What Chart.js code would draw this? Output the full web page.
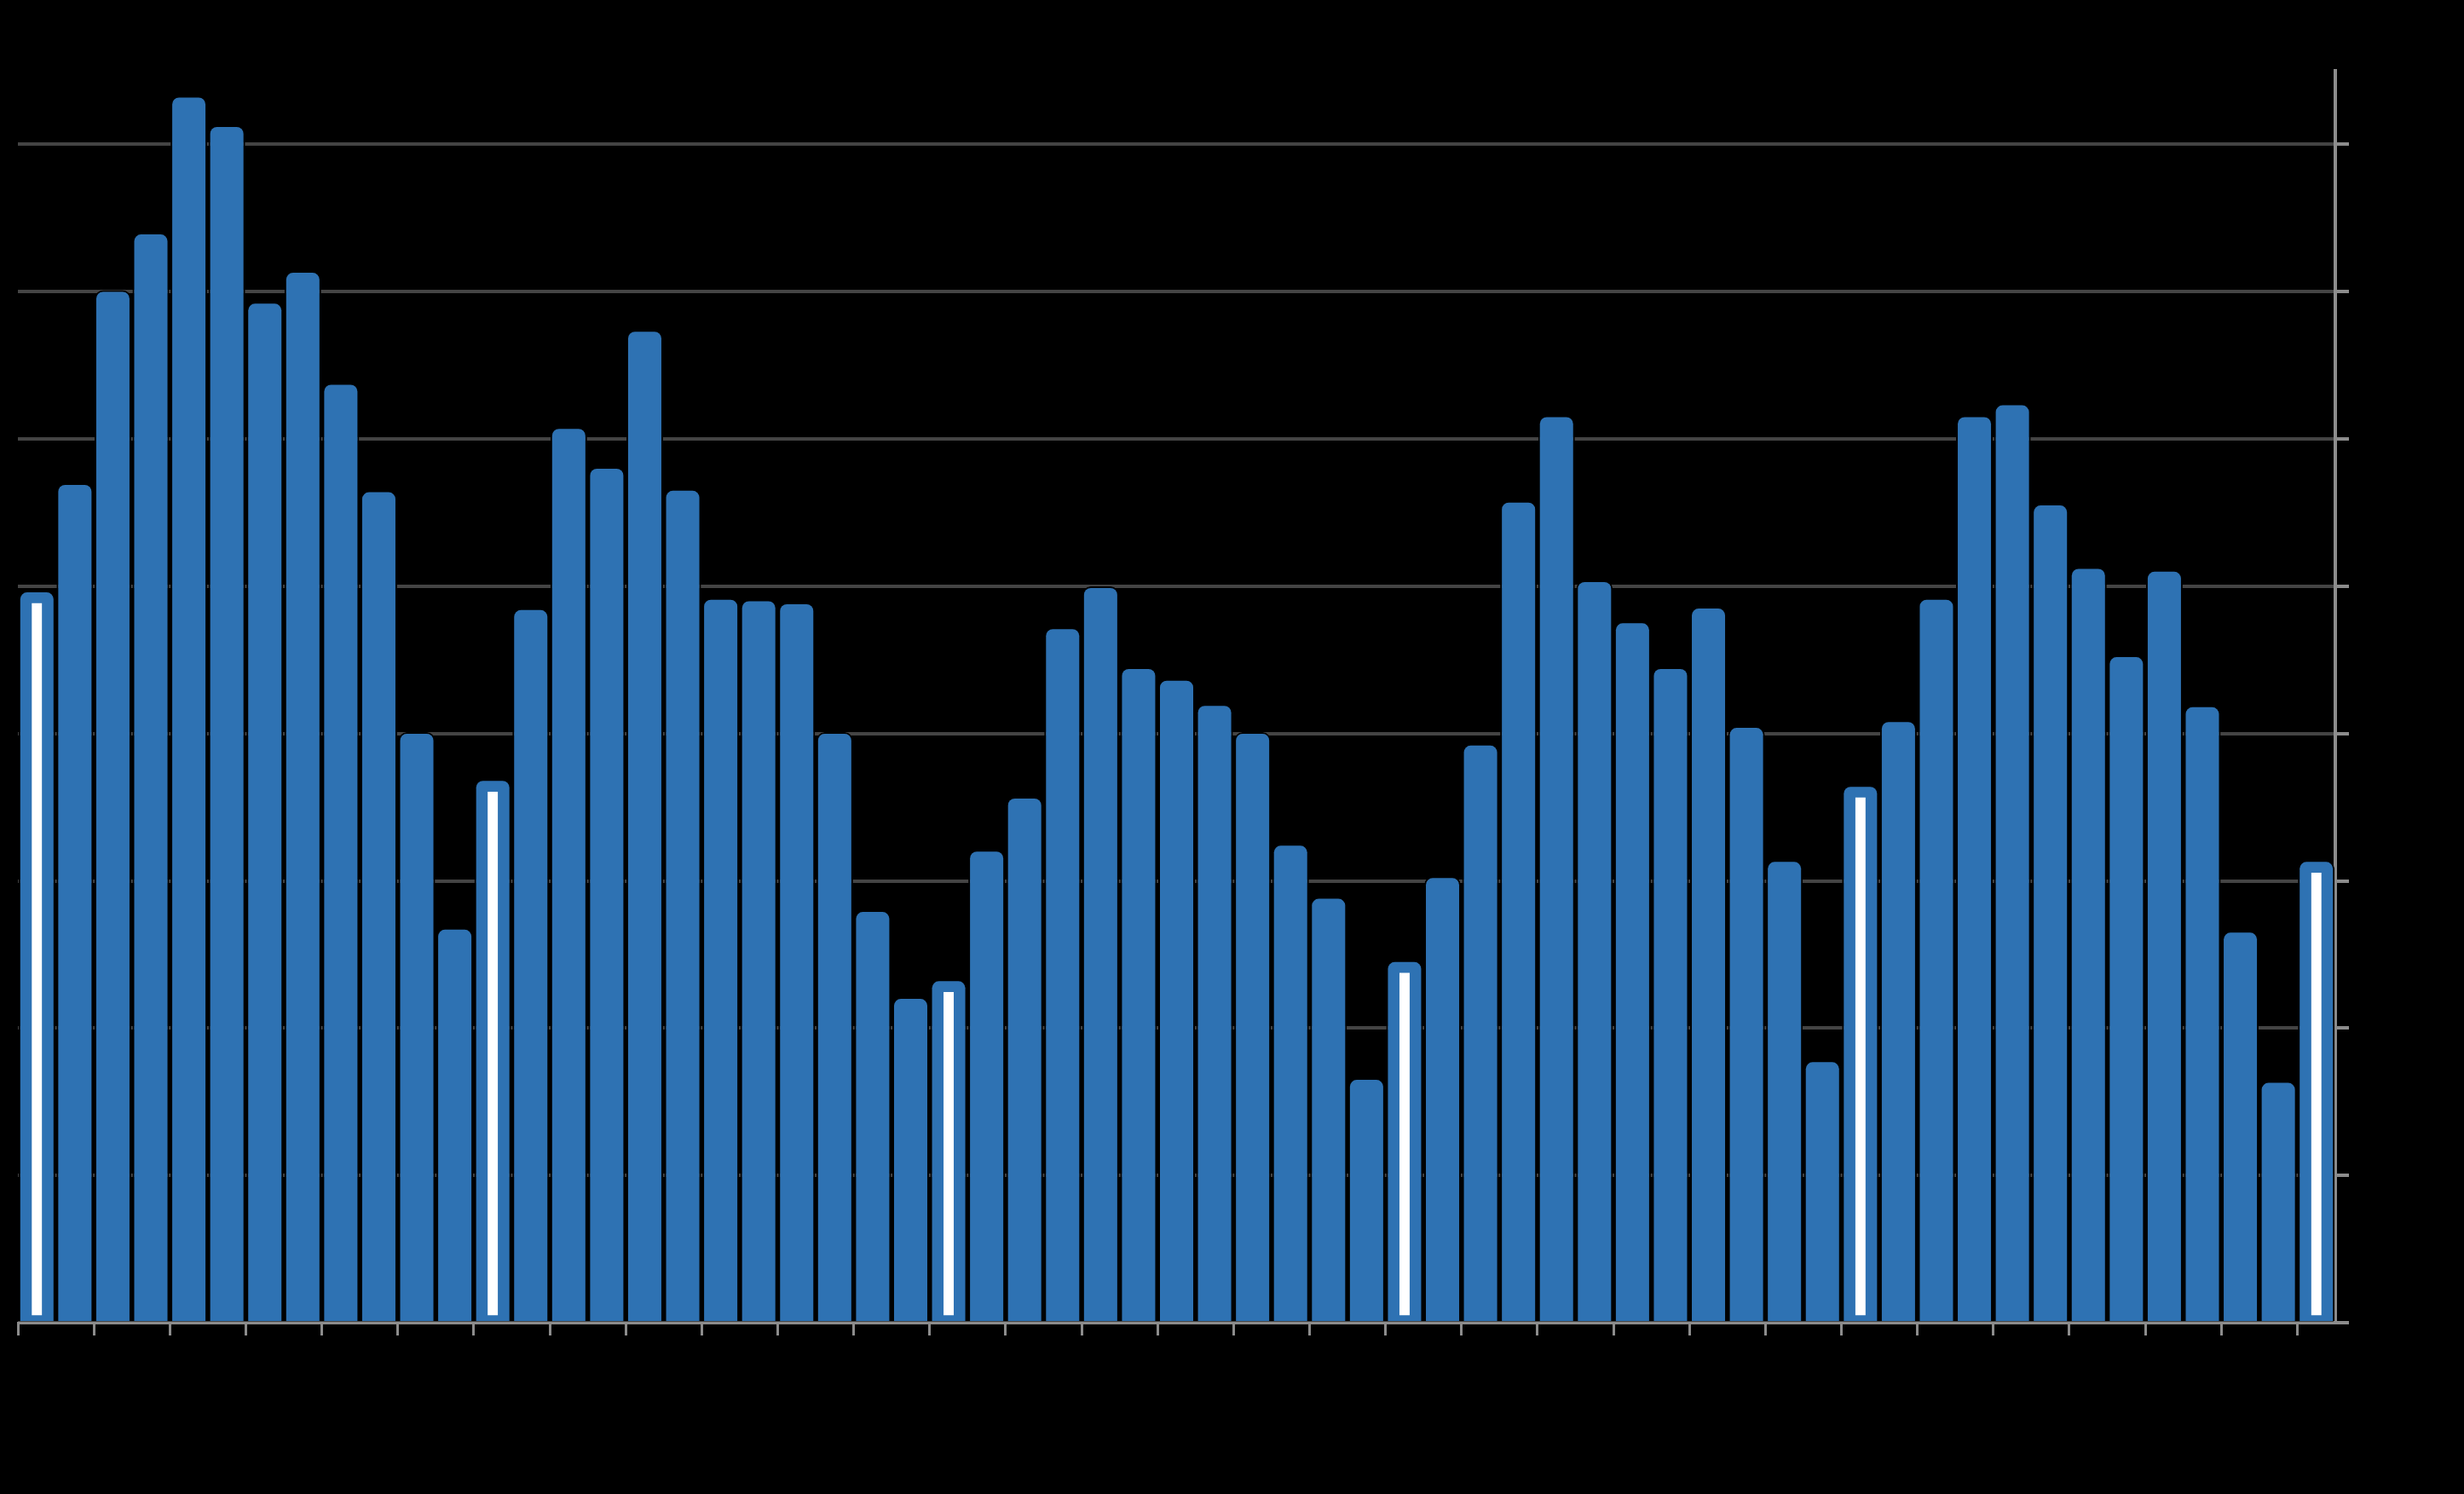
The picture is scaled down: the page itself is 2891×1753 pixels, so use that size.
<!DOCTYPE html>
<html>
<head>
<meta charset="utf-8">
<script src="https://cdn.jsdelivr.net/npm/chart.js@4/dist/chart.umd.min.js"></script>
<style>
  html, body { margin: 0; padding: 0; background: #000; }
  #wrap { width: 2891px; height: 1753px; position: relative; background: #000; }
</style>
</head>
<body>
<div id="wrap"><canvas id="c"></canvas></div>
<script>
const categories = [
  "2015-01","2015-02","2015-03","2015-04","2015-05","2015-06","2015-07","2015-08","2015-09","2015-10","2015-11","2015-12",
  "2016-01","2016-02","2016-03","2016-04","2016-05","2016-06","2016-07","2016-08","2016-09","2016-10","2016-11","2016-12",
  "2017-01","2017-02","2017-03","2017-04","2017-05","2017-06","2017-07","2017-08","2017-09","2017-10","2017-11","2017-12",
  "2018-01","2018-02","2018-03","2018-04","2018-05","2018-06","2018-07","2018-08","2018-09","2018-10","2018-11","2018-12",
  "2019-01","2019-02","2019-03","2019-04","2019-05","2019-06","2019-07","2019-08","2019-09","2019-10","2019-11","2019-12",
  "2020-01"
];
const values = [
  49.7, 57.0, 70.1, 74.0, 83.3, 81.3, 69.3, 71.4, 63.8, 56.5, 40.1, 26.8,
  36.9, 48.5, 60.8, 58.1, 67.4, 56.6, 49.2, 49.1, 48.9, 40.1, 28.0, 22.1,
  23.3, 32.1, 35.7, 47.2, 50.0, 44.5, 43.7, 42.0, 40.1, 32.5, 28.9, 16.6,
  24.6, 30.3, 39.3, 55.8, 61.6, 50.4, 47.6, 44.5, 48.6, 40.5, 31.4, 17.8,
  36.5, 40.9, 49.2, 61.6, 62.4, 55.6, 51.3, 45.3, 51.1, 41.9, 26.6, 16.4,
  31.4
];
const highlighted = ["2015-01","2016-01","2017-01","2018-01","2019-01","2020-01"];
const yTicks = [0, 10, 20, 30, 40, 50, 60, 70, 80];

const highlightValues = categories.map((c, i) => highlighted.includes(c) ? values[i] : null);

const BLUE = '#2e72b3';
const GRID = '#444444';
const AXIS = '#8c8c8c';

new Chart(document.getElementById('c'), {
  type: 'bar',
  data: {
    labels: categories,
    datasets: [
      {
        label: 'highlight',
        data: highlightValues,
        backgroundColor: '#ffffff',
        borderColor: 'rgba(0,0,0,0)',
        borderWidth: { top: 15, bottom: 7, left: 0, right: 0 },
        borderSkipped: false,
        barThickness: 12,
        grouped: false,
        order: 0
      },
      {
        label: 'value',
        data: values,
        backgroundColor: BLUE,
        borderColor: '#000000',
        borderWidth: 2,
        borderRadius: { topLeft: 10, topRight: 10, bottomLeft: 0, bottomRight: 0 },
        borderSkipped: 'start',
        categoryPercentage: 1.0,
        barPercentage: 0.965,
        grouped: false,
        order: 1
      }
    ]
  },
  options: {
    responsive: true,
    maintainAspectRatio: false,
    animation: false,
    layout: { padding: { left: 21, right: 135, top: 83, bottom: 186 } },
    plugins: { legend: { display: false }, tooltip: { enabled: false } },
    scales: {
      x: {
        offset: true,
        grid: {
          offset: true,
          drawOnChartArea: false,
          drawTicks: true,
          tickLength: 15,
          tickWidth: 3,
          tickColor: (ctx) => (ctx.index % 2 === 0 ? AXIS : 'rgba(0,0,0,0)')
        },
        border: { display: true, color: AXIS, width: 3, z: 1 },
        ticks: { display: false, autoSkip: false }
      },
      y: {
        position: 'right',
        min: 0,
        max: 85,
        afterBuildTicks: (axis) => { axis.ticks = yTicks.map(v => ({ value: v })); },
        grid: {
          color: GRID,
          lineWidth: 4,
          drawTicks: true,
          tickLength: 16,
          tickWidth: 4,
          tickColor: AXIS
        },
        border: { display: true, color: AXIS, width: 4 },
        ticks: { display: false }
      }
    }
  }
});
</script>
</body>
</html>
